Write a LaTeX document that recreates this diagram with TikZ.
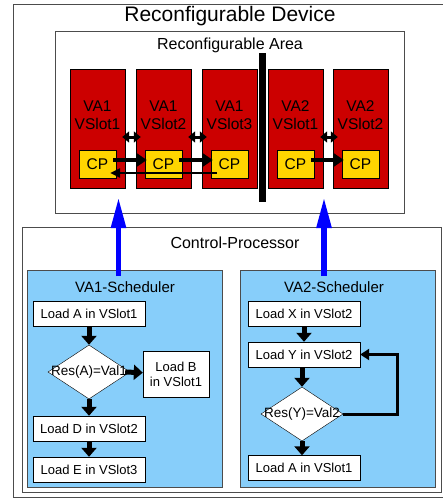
\documentclass[tikz,border=0pt]{standalone}
\usepackage{fontspec}
\setmainfont{Liberation Sans}
\usetikzlibrary{shapes.geometric,arrows.meta,calc}

\definecolor{slotred}{RGB}{204,0,0}
\definecolor{cpyellow}{RGB}{255,213,0}
\definecolor{schedblue}{RGB}{135,206,250}

\begin{document}
\begin{tikzpicture}[x=1pt,y=-1pt,
    font=\fontsize{13}{15}\selectfont,
    frame/.style={draw=black!70,line width=0.9pt,inner sep=0pt},
    sched/.style={frame,fill=schedblue,minimum width=195pt,minimum height=217pt},
    slot/.style={draw,fill=slotred,inner sep=0pt,minimum width=55pt,minimum height=119pt},
    cp/.style={draw,fill=cpyellow,inner sep=0pt,minimum width=37pt,minimum height=28pt,font=\fontsize{15.5}{18}\selectfont},
    box/.style={draw,fill=white,inner sep=0pt,minimum width=112pt,minimum height=25pt},
    decision/.style={diamond,draw,fill=white,inner sep=0pt,minimum width=82pt,minimum height=54pt},
    flow/.style={line width=5pt,-{Triangle[length=9pt,width=15pt]}},
    link/.style={line width=3pt,{Triangle[length=7pt,width=11pt]}-{Triangle[length=7pt,width=11pt]}},
    pass/.style={line width=4.5pt,-{Triangle[length=10pt,width=13pt]}},
    back/.style={line width=2.5pt,-{Triangle[length=10pt,width=9pt]}},
    load/.style={draw=blue,line width=5.5pt,-{Triangle[length=31pt,width=14pt]}}]

\useasboundingbox (0,0) rectangle (443,500);

% device and reconfigurable area
\node[frame,minimum width=440pt,minimum height=493pt] (device) at (233,250.5) {};
\node[font=\fontsize{21}{25}\selectfont] (devtitle) at (230,16) {Reconfigurable Device};
\node[frame,minimum width=349pt,minimum height=182pt] (area) at (229.5,122) {};
\node[font=\fontsize{16}{19}\selectfont] (areatitle) at (230,45) {Reconfigurable Area};

\foreach \n/\x/\va/\vs in {1/97.5/VA1/VSlot1,2/163.5/VA1/VSlot2,3/229.5/VA1/VSlot3,4/295.5/VA2/VSlot1,5/360.5/VA2/VSlot2}{
  \node[slot] (s\n) at (\x,128.5) {};
  \node[align=center,font=\fontsize{15.5}{18}\selectfont] (t\n) at (\x,115) {\va\\\vs};
  \node[cp] (cp\n) at (\x,164) {CP};
}
\node[fill=black,inner sep=0pt,minimum width=7pt,minimum height=149pt] (bar) at (262.5,127.5) {};

\foreach \a/\b in {1/2,2/3,4/5}
  \draw[link] ($(s\a.east)+(-3,8.5)$) -- ($(s\b.west)+(5,8.5)$);
\foreach \a/\b in {1/2,2/3,4/5}
  \draw[pass] ($(cp\a.east)+(-3,-4)$) -- ($(cp\b.west)+(2,-4)$);
\draw[back] ($(cp3.west)+(6,9)$) -- ($(cp1.east)+(-6,9)$);

% control processor
\node[frame,minimum width=419pt,minimum height=265pt] (ctrl) at (231.5,359.5) {};
\node[font=\fontsize{16}{19}\selectfont] (ctrltitle) at (235,243) {Control-Processor};
\node[sched] (sched1) at (124.5,378.5) {};
\node[sched] (sched2) at (337.5,378.5) {};
\node[font=\fontsize{15}{18}\selectfont] (title1) at (125,287) {VA1-Scheduler};
\node[font=\fontsize{15}{18}\selectfont] (title2) at (334,287) {VA2-Scheduler};

% VA1 schedule
\node[box] (la) at (89,313.5) {Load A in VSlot1};
\node[decision,label={[font=\fontsize{13.5}{16}\selectfont]center:Res(A)=Val1}] (d1) at (89,372) {};
\node[box,minimum width=66pt,minimum height=46pt,align=center] (lb) at (176,374) {Load B\\in VSlot1};
\node[box] (ld) at (89,428.5) {Load D in VSlot2};
\node[box] (le) at (89,469.5) {Load E in VSlot3};

\draw[flow] (la) -- (d1);
\draw[flow] ($(d1.east)+(-5,0)$) -- (lb);
\draw[flow] (d1) -- (ld);
\draw[flow] (ld) -- (le);

% VA2 schedule
\node[box] (lx) at (304,313.5) {Load X in VSlot2};
\node[box] (ly) at (304,354.5) {Load Y in VSlot2};
\node[decision,label={[font=\fontsize{13.5}{16}\selectfont]center:Res(Y)=Val2}] (d2) at (302,414) {};
\node[box] (la2) at (304,468) {Load A in VSlot1};

\draw[flow] (lx) -- (ly);
\draw[flow] (ly.south -| d2) -- (d2);
\draw[flow] (d2) -- (la2.north -| d2);
\draw[line width=3pt,-{Triangle[length=9pt,width=11pt]}] (d2.east) -- ++(54,0) |- (ly.east);

% requests to the area
\coordinate (req1) at (118.5,276);
\coordinate (tip1) at (118.5,197);
\coordinate (req2) at (324,276);
\coordinate (tip2) at (324,197);
\draw[load] (req1) -- (tip1);
\draw[load] (req2) -- (tip2);
\end{tikzpicture}
\end{document}
